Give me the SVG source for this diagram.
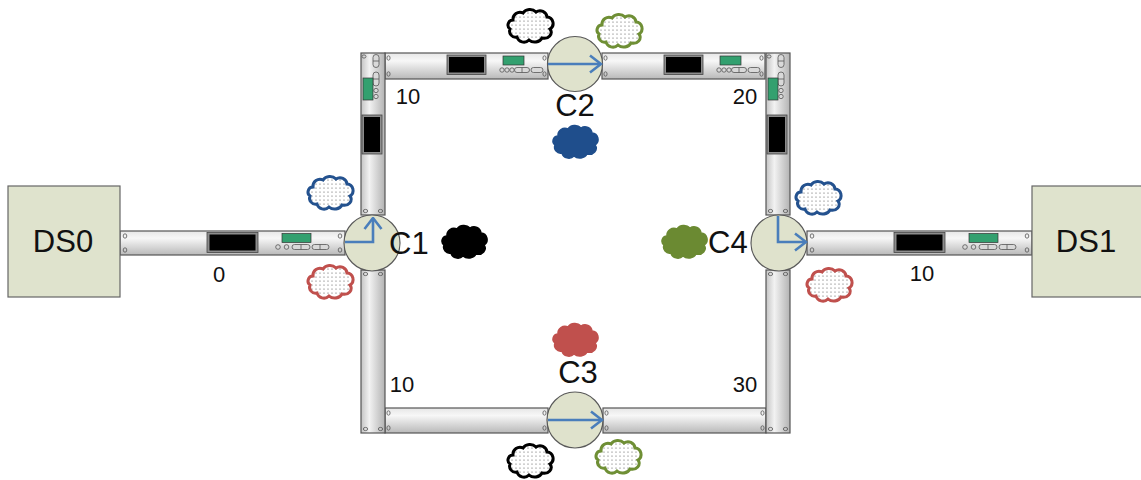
<svg xmlns="http://www.w3.org/2000/svg" width="1141" height="480" viewBox="0 0 1141 480">
  <defs>
    <style>
      .rack { stroke: #555; stroke-width: 1.2; }
      .rh { fill: url(#gradH); }
      .rv { fill: url(#gradV); }
      .hole { fill: none; stroke: #555; stroke-width: 0.8; }
      .disp { fill: #8c8c8c; stroke: #444; stroke-width: 0.8; }
      .scr { fill: #000; }
      .led { fill: #33a06f; stroke: #333; stroke-width: 0.7; }
      .knob { fill: #d9d9d9; stroke: #555; stroke-width: 0.8; }
      .node { fill: #dfe2cc; stroke: #595959; stroke-width: 1.2; }
      .ds { fill: #dfe3cd; stroke: #666; stroke-width: 1.2; }
      .flow { fill: none; stroke: #4a7ebb; stroke-width: 2.6; }
      .lbl { font-family: "Liberation Sans", Arial, sans-serif; fill: #111; }
      .big { font-size: 31px; }
      .mid { font-size: 31px; }
      .num { font-size: 22px; }
      .cl { stroke-width: 3; fill: url(#dots); }
      .cf { stroke-width: 1.5; }
    </style>
    <linearGradient id="gradH" x1="0" y1="0" x2="0" y2="1">
      <stop offset="0" stop-color="#e6e6e6"/>
      <stop offset="0.3" stop-color="#f7f7f7"/>
      <stop offset="1" stop-color="#b9b9b9"/>
    </linearGradient>
    <linearGradient id="gradV" x1="0" y1="0" x2="1" y2="0">
      <stop offset="0" stop-color="#c4c4c4"/>
      <stop offset="0.35" stop-color="#f2f2f2"/>
      <stop offset="1" stop-color="#b3b3b3"/>
    </linearGradient>
    <pattern id="dots" width="4" height="4" patternUnits="userSpaceOnUse">
      <rect width="4" height="4" fill="#fff"/>
      <circle cx="2" cy="2" r="0.6" fill="#555"/>
    </pattern>
    <marker id="chev" viewBox="0 0 14 20" refX="12.5" refY="10" markerWidth="14" markerHeight="20" markerUnits="userSpaceOnUse" orient="auto">
      <path d="M1.5,1.5 L12.5,10 L1.5,18.5" fill="none" stroke="#4a7ebb" stroke-width="2.6"/>
    </marker>
    <path id="cloud" d="M7,13 A7,7 0 0 1 17,6 A8,7 0 0 1 30,5 A7,7 0 0 1 41,10 A6.5,6.5 0 0 1 44,22 A7,6 0 0 1 36,31 A8,7 0 0 1 23,33 A7,6.5 0 0 1 11,30 A6,6 0 0 1 4,22 A5,5 0 0 1 7,13 Z"/>

    <!-- long rack unit used on the DS links (225 x 24) -->
    <g id="rackLong">
      <rect class="rack rh" x="0" y="0" width="225" height="24"/>
      <ellipse class="hole" cx="5" cy="5" rx="1.8" ry="2.2"/>
      <ellipse class="hole" cx="5" cy="19" rx="1.8" ry="2.2"/>
      <ellipse class="hole" cx="220" cy="5" rx="1.8" ry="2.2"/>
      <ellipse class="hole" cx="220" cy="19" rx="1.8" ry="2.2"/>
      <rect class="disp" x="87" y="1.5" width="51" height="20"/>
      <rect class="scr" x="89.5" y="3.5" width="46" height="16"/>
      <rect class="led" x="162" y="2.5" width="29" height="9"/>
      <circle class="knob" cx="158" cy="16" r="2.3"/>
      <circle class="knob" cx="166.5" cy="16" r="2.3"/>
      <rect class="knob" x="172" y="13.5" width="18" height="5" rx="2.5"/>
      <line class="hole" x1="181" y1="13.5" x2="181" y2="18.5"/>
      <rect class="knob" x="192" y="13.5" width="17" height="5" rx="2.5"/>
      <line class="hole" x1="200" y1="13.5" x2="200" y2="18.5"/>
    </g>

    <!-- short rack unit with front panel (163 x 26) -->
    <g id="rackShort">
      <rect class="rack rh" x="0" y="0" width="163" height="26"/>
      <ellipse class="hole" cx="3.5" cy="5" rx="1.6" ry="2.2"/>
      <ellipse class="hole" cx="3.5" cy="21" rx="1.6" ry="2.2"/>
      <ellipse class="hole" cx="159.5" cy="5" rx="1.6" ry="2.2"/>
      <ellipse class="hole" cx="159.5" cy="21" rx="1.6" ry="2.2"/>
      <rect class="disp" x="62" y="2" width="39" height="19.5"/>
      <rect class="scr" x="64" y="4" width="35" height="15.5"/>
      <rect class="led" x="118" y="3" width="21" height="9"/>
      <circle class="knob" cx="117" cy="17" r="2.2"/>
      <circle class="knob" cx="122" cy="17" r="2.2"/>
      <circle class="knob" cx="127" cy="17" r="2.2"/>
      <rect class="knob" x="129.5" y="14.5" width="15" height="5" rx="2.5"/>
      <line class="hole" x1="137" y1="14.5" x2="137" y2="19.5"/>
      <rect class="knob" x="146" y="14.5" width="12" height="5" rx="2.5"/>
    </g>

    <!-- plain short rack unit (163 x 25) -->
    <g id="rackPlain">
      <rect class="rack rh" x="0" y="0" width="163" height="25"/>
      <ellipse class="hole" cx="3.5" cy="5" rx="1.6" ry="2.2"/>
      <ellipse class="hole" cx="3.5" cy="20" rx="1.6" ry="2.2"/>
      <ellipse class="hole" cx="159.5" cy="5" rx="1.6" ry="2.2"/>
      <ellipse class="hole" cx="159.5" cy="20" rx="1.6" ry="2.2"/>
    </g>

    <!-- upright rack unit with front panel (24 x 162) -->
    <g id="rackUp">
      <rect class="rack rv" x="0" y="0" width="24" height="162"/>
      <ellipse class="hole" cx="3" cy="3.5" rx="2" ry="1.6"/>
      <ellipse class="hole" cx="4.5" cy="158" rx="2.2" ry="1.6"/>
      <ellipse class="hole" cx="19.5" cy="158" rx="2.2" ry="1.6"/>
      <rect class="knob" x="12" y="1.5" width="6" height="13" rx="3"/>
      <line class="hole" x1="12" y1="8" x2="18" y2="8"/>
      <rect class="knob" x="12" y="19" width="6" height="14" rx="3"/>
      <line class="hole" x1="12" y1="26" x2="18" y2="26"/>
      <circle class="knob" cx="15" cy="37.5" r="2.2"/>
      <circle class="knob" cx="15" cy="43.5" r="2.2"/>
      <rect class="led" x="2" y="25" width="10" height="22"/>
      <rect class="disp" x="1" y="62" width="20" height="39"/>
      <rect class="scr" x="3" y="64" width="16" height="35"/>
    </g>

    <!-- plain upright rack unit (24 x 163) -->
    <g id="rackDown">
      <rect class="rack rv" x="0" y="0" width="24" height="163"/>
      <ellipse class="hole" cx="4.5" cy="4" rx="2.2" ry="1.6"/>
      <ellipse class="hole" cx="19.5" cy="4" rx="2.2" ry="1.6"/>
      <ellipse class="hole" cx="4.5" cy="159" rx="2.2" ry="1.6"/>
      <ellipse class="hole" cx="19.5" cy="159" rx="2.2" ry="1.6"/>
    </g>
  </defs>

  <rect width="1141" height="480" fill="#fff"/>

  <!-- links: rack-mounted equipment between sites -->
  <g id="connectors">
    <use href="#rackLong" x="120" y="231"/>
    <use href="#rackLong" x="807" y="231"/>
    <use href="#rackShort" x="385" y="53"/>
    <use href="#rackShort" x="602" y="53"/>
    <use href="#rackPlain" x="385" y="408"/>
    <use href="#rackPlain" x="603" y="408"/>
    <use href="#rackUp" x="361" y="53"/>
    <use href="#rackUp" x="766" y="53"/>
    <use href="#rackDown" x="361" y="270"/>
    <use href="#rackDown" x="766" y="270"/>
  </g>

  <!-- link weights -->
  <g id="link-labels" class="lbl num" text-anchor="middle">
    <text x="219" y="282">0</text>
    <text x="922" y="281">10</text>
    <text x="408" y="104">10</text>
    <text x="745" y="104">20</text>
    <text x="402" y="392">10</text>
    <text x="745" y="392">30</text>
  </g>

  <g id="DS0">
    <rect class="ds" x="8" y="186" width="112" height="111"/>
    <text class="lbl big" x="63" y="252" text-anchor="middle">DS0</text>
  </g>
  <g id="DS1">
    <rect class="ds" x="1032" y="186" width="112" height="111"/>
    <text class="lbl big" x="1086" y="252" text-anchor="middle">DS1</text>
  </g>

  <g id="C1">
    <circle class="node" cx="372" cy="243" r="28"/>
    <polyline class="flow" points="345,242 373,242 373,218" marker-end="url(#chev)"/>
    <text class="lbl mid" x="389" y="254">C1</text>
  </g>
  <g id="C2">
    <circle class="node" cx="575" cy="64" r="27.5"/>
    <line class="flow" x1="548" y1="64" x2="601" y2="64" marker-end="url(#chev)"/>
    <text class="lbl mid" x="575" y="116" text-anchor="middle">C2</text>
  </g>
  <g id="C3">
    <circle class="node" cx="575" cy="420" r="28"/>
    <line class="flow" x1="548" y1="420" x2="602" y2="420" marker-end="url(#chev)"/>
    <text class="lbl mid" x="578" y="383" text-anchor="middle">C3</text>
  </g>
  <g id="C4">
    <circle class="node" cx="779" cy="243" r="28"/>
    <polyline class="flow" points="778,216 778,242 806,242" marker-end="url(#chev)"/>
    <text class="lbl mid" x="708" y="253">C4</text>
  </g>

  <!-- traffic clouds -->
  <g id="clouds">
    <use href="#cloud" class="cl" stroke="#000" x="506" y="7"/>
    <use href="#cloud" class="cl" stroke="#6f8f35" x="595" y="12"/>
    <use href="#cloud" class="cl" stroke="#24528f" x="306" y="174"/>
    <use href="#cloud" class="cl" stroke="#c0504d" x="306" y="263"/>
    <use href="#cloud" class="cl" stroke="#24528f" x="794" y="179"/>
    <use href="#cloud" class="cl" stroke="#c0504d" x="805" y="266"/>
    <use href="#cloud" class="cl" stroke="#000" x="506" y="442"/>
    <use href="#cloud" class="cl" stroke="#6f8f35" x="594" y="438"/>
    <use href="#cloud" class="cf" fill="#000" stroke="#000" x="440" y="223"/>
    <use href="#cloud" class="cf" fill="#6b8a32" stroke="#6b8a32" x="660" y="223"/>
    <use href="#cloud" class="cf" fill="#1f4e8c" stroke="#1f4e8c" x="551" y="123"/>
    <use href="#cloud" class="cf" fill="#c0504d" stroke="#c0504d" x="551" y="321"/>
  </g>
</svg>
